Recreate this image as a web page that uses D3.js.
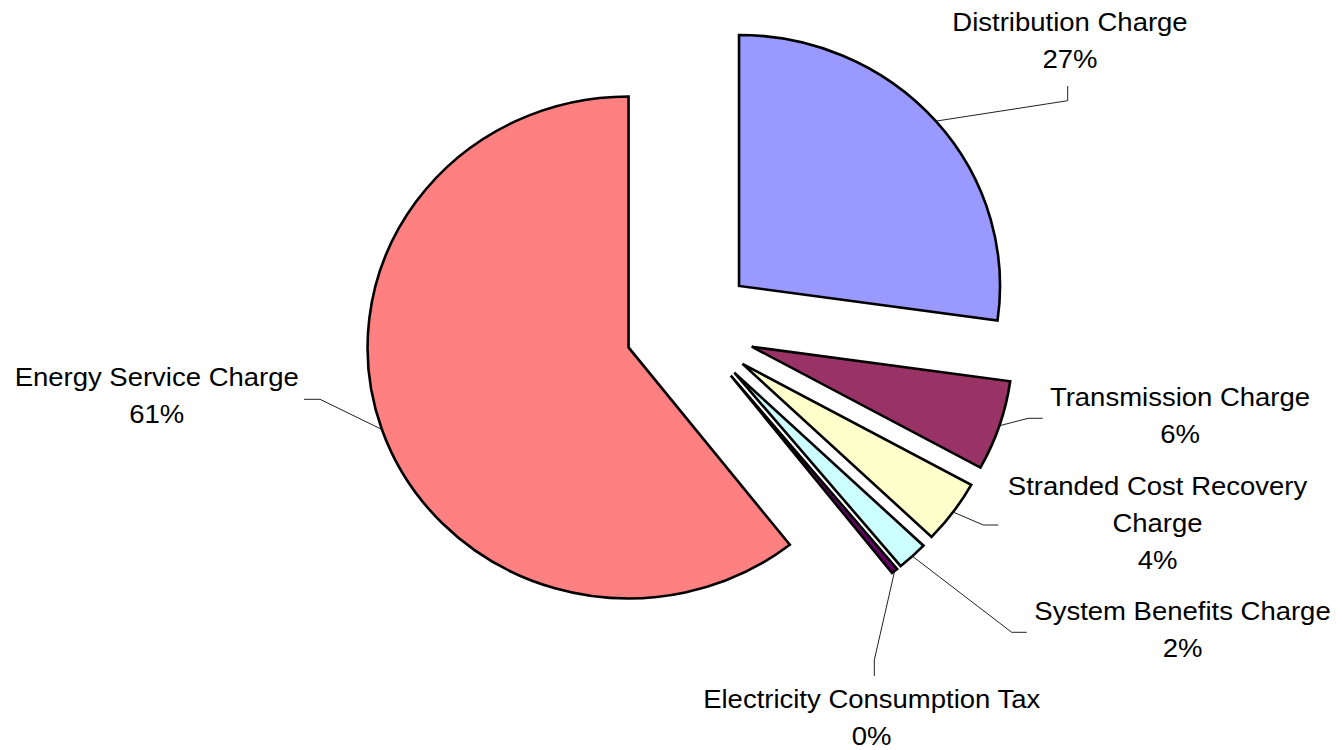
<!DOCTYPE html>
<html>
<head>
<meta charset="utf-8">
<script src="https://cdn.jsdelivr.net/npm/d3@7"></script>
<style>
  html, body { margin: 0; padding: 0; background: #fff; }
  svg { display: block; }
  text { font-family: "Liberation Sans", Arial, sans-serif; fill: #000; }
</style>
</head>
<body>
<svg id="chart" width="1342" height="750"></svg>
<script>
// Bill components, percent of total, clockwise from 12 o'clock
const categories = [
  "Distribution Charge",
  "Transmission Charge",
  "Stranded Cost Recovery Charge",
  "System Benefits Charge",
  "Electricity Consumption Tax",
  "Energy Service Charge"
];
const shares = [27.2, 5.8, 4.1, 1.9, 0.4, 60.6];
const colors = ["#9999FF", "#993366", "#FFFFCC", "#CCFFFF", "#660066", "#FF8080"];

// Geometry of the exploded pie
const CX = 690, CY = 327;        // pie centre
const R = 261;                    // horizontal radius
const KY = 251 / 261;             // vertical squash of the pie
const EXPLODE = 65;               // distance each slice is pulled out
const FONT = 25, SX = 1.1, LINE = 37;

// Label placement: centre x, first baseline, leader elbow and leader end,
// and the word count after which the name wraps (0 = no wrap)
const labelLayout = [
  { x: 1070,   y: 31,  elbow: [1067.7, 100.7], end: [1067.7, 86],  wrap: 0 },
  { x: 1180,   y: 406, elbow: [1028.3, 418.3], end: [1042.7, 418.3], wrap: 0 },
  { x: 1157.5, y: 495, elbow: [983.3, 525],   end: [998.3, 525],   wrap: 3 },
  { x: 1182.5, y: 620, elbow: [1011.7, 632.3], end: [1026.7, 632.3], wrap: 0 },
  { x: 871.7,  y: 708, elbow: [874.3, 660],   end: [874.3, 676],   wrap: 0 },
  { x: 156.7,  y: 386, elbow: [320, 399.3],   end: [304, 399.3],   wrap: 0 }
];

const svg = d3.select("#chart");
svg.append("rect").attr("width", 1342).attr("height", 750).attr("fill", "#fff");

const pie = d3.pie().sort(null).value(d => d).startAngle(0).endAngle(2 * Math.PI);
const arcs = pie(shares);
const arc = d3.arc().innerRadius(0).outerRadius(R);
const mid = d => (d.startAngle + d.endAngle) / 2;

const pieG = svg.append("g")
  .attr("transform", `translate(${CX},${CY}) scale(1,${KY})`);

pieG.selectAll("path.slice")
  .data(arcs)
  .join("path")
  .attr("class", "slice")
  .attr("d", arc)
  .attr("transform", d => `translate(${EXPLODE * Math.sin(mid(d))},${-EXPLODE * Math.cos(mid(d))})`)
  .attr("fill", (d, i) => colors[i])
  .attr("stroke", "#000")
  .attr("stroke-width", 2.6)
  .attr("stroke-linejoin", "miter")
  .attr("vector-effect", "non-scaling-stroke");

// Point on the outer edge of an exploded slice, at its bisector, in screen space
function rimPoint(d) {
  const a = mid(d), r = R + EXPLODE;
  return [CX + r * Math.sin(a), CY - r * Math.cos(a) * KY];
}

// Leader lines
svg.append("g")
  .selectAll("polyline")
  .data(arcs)
  .join("polyline")
  .attr("points", (d, i) => [rimPoint(d), labelLayout[i].elbow, labelLayout[i].end].map(p => p.join(",")).join(" "))
  .attr("fill", "none")
  .attr("stroke", "#222")
  .attr("stroke-width", 1);

// Labels: category name (wrapped where set) and rounded percentage
const labelG = svg.append("g");
arcs.forEach((d, i) => {
  const L = labelLayout[i];
  const words = categories[i].split(" ");
  const lines = L.wrap ? [words.slice(0, L.wrap).join(" "), words.slice(L.wrap).join(" ")] : [categories[i]];
  lines.push(Math.round(shares[i]) + "%");
  lines.forEach((t, k) => {
    labelG.append("text")
      .attr("transform", `translate(${L.x},${L.y + k * LINE}) scale(${SX},1)`)
      .attr("text-anchor", "middle")
      .attr("font-size", FONT)
      .text(t);
  });
});
</script>
</body>
</html>
